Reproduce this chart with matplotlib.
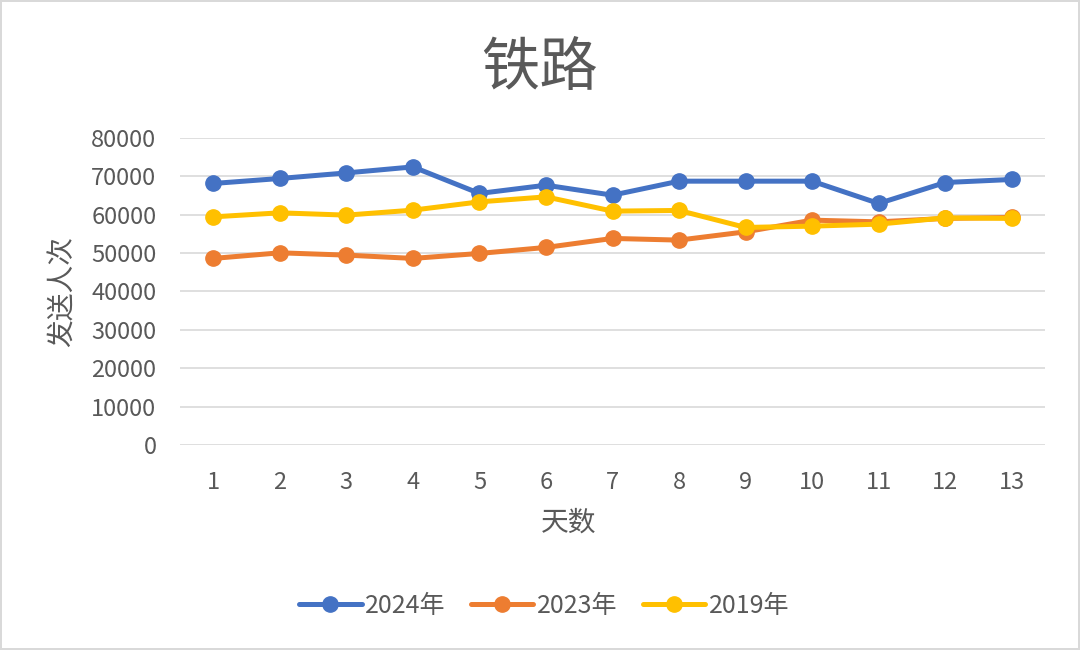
import numpy as np
import matplotlib.pyplot as plt

plt.rcParams['font.family'] = ['Noto Sans CJK SC', 'DejaVu Sans']

days = np.arange(1, 14)
y2024 = [68150, 69450, 70900, 72470, 65550, 67700, 65100, 68750, 68750, 68750, 62940, 68400, 69190]
y2023 = [48620, 50080, 49480, 48620, 49920, 51480, 53830, 53390, 55550, 58590, 58150, 59040, 59300]
y2019 = [59450, 60500, 59900, 61200, 63360, 64660, 60940, 61120, 56690, 57030, 57550, 59190, 59040]

series = [('2024年', y2024, '#4472C4'),
          ('2023年', y2023, '#ED7D31'),
          ('2019年', y2019, '#FFC000')]

grey = '#595959'

fig = plt.figure(figsize=(10.8, 6.5), dpi=100)
fig.patch.set_edgecolor('#D9D9D9')
fig.patch.set_linewidth(1.5)
ax = fig.add_axes([0.1667, 0.3154, 0.8009, 0.4723])

for name, vals, c in series:
    ax.plot(days, vals, color=c, lw=3.6, marker='o', ms=11, label=name,
            solid_capstyle='round', zorder=3)

ax.set_xlim(0.5, 13.5)
ax.set_ylim(0, 80000)
ax.set_yticks(np.arange(0, 80001, 10000))
ax.set_xticks(days)
ax.grid(axis='y', color='#D9D9D9', lw=1.2, zorder=0)
for s in ax.spines.values():
    s.set_visible(False)
ax.tick_params(length=0, labelsize=17, labelcolor=grey)
ax.tick_params(axis='y', pad=17)
ax.tick_params(axis='x', pad=19)

ax.set_xlabel('天数', fontsize=20, color=grey, labelpad=6)
ax.xaxis.set_label_coords(0.449, -0.205)
ax.set_ylabel('发送人次', fontsize=20, color=grey, labelpad=10)
fig.text(0.5, 0.895, '铁路', ha='center', va='center', fontsize=42, color=grey)

ax.legend(loc='center', bbox_to_anchor=(0.421, -0.525), ncol=3, frameon=False,
          fontsize=18, labelcolor=grey, handlelength=2.5, handletextpad=0.15,
          columnspacing=1.0)

fig.savefig('out.png', dpi=100)
